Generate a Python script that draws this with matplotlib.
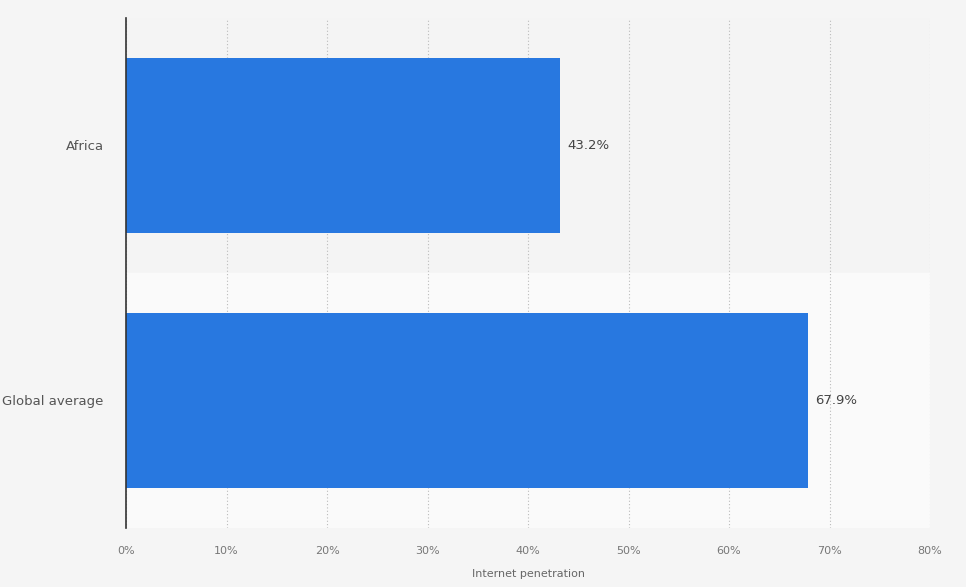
import matplotlib.pyplot as plt

regions = ['Africa', 'Global average']
penetration = [43.2, 67.9]
ticks = [0, 10, 20, 30, 40, 50, 60, 70, 80]

fig = plt.figure(figsize=(9.66, 5.87), dpi=100, facecolor='#f5f5f5')
ax = fig.add_axes([126/966, 1-528/587, 804/966, 510/587])
ax.set_facecolor('#f5f5f5')

ypos = list(range(len(regions)))
# alternating row bands
ax.axhspan(-0.5, 0.5, color='#f4f4f4', zorder=0)
ax.axhspan(0.5, 1.5, color='#fafafa', zorder=0)

ax.barh(ypos, penetration, height=0.69, color='#2878e0', zorder=3)
for y, v in zip(ypos, penetration):
    ax.text(v + 0.7, y, f'{v}%', va='center', ha='left', fontsize=9.5, color='#444444', zorder=4)

ax.set_xlim(0, 80)
ax.set_ylim(1.5, -0.5)
ax.set_yticks(ypos)
ax.set_yticklabels(regions, fontsize=9.5, color='#555555')
ax.set_xticks(ticks)
ax.set_xticklabels([f'{t}%' for t in ticks], fontsize=8, color='#777777')
ax.tick_params(axis='x', length=0, pad=13)
ax.tick_params(axis='y', length=0, pad=16)
ax.grid(axis='x', linestyle=(0, (1, 2)), color='#bbbbbb', linewidth=0.8, zorder=1)
ax.set_axisbelow(True)
for s in ['top', 'right', 'bottom']:
    ax.spines[s].set_visible(False)
ax.spines['left'].set_color('#333333')
ax.spines['left'].set_linewidth(1.2)
ax.spines['left'].set_zorder(5)
ax.set_xlabel('Internet penetration', fontsize=8, color='#666666', labelpad=9)

fig.savefig('out.png', dpi=100, facecolor=fig.get_facecolor())
